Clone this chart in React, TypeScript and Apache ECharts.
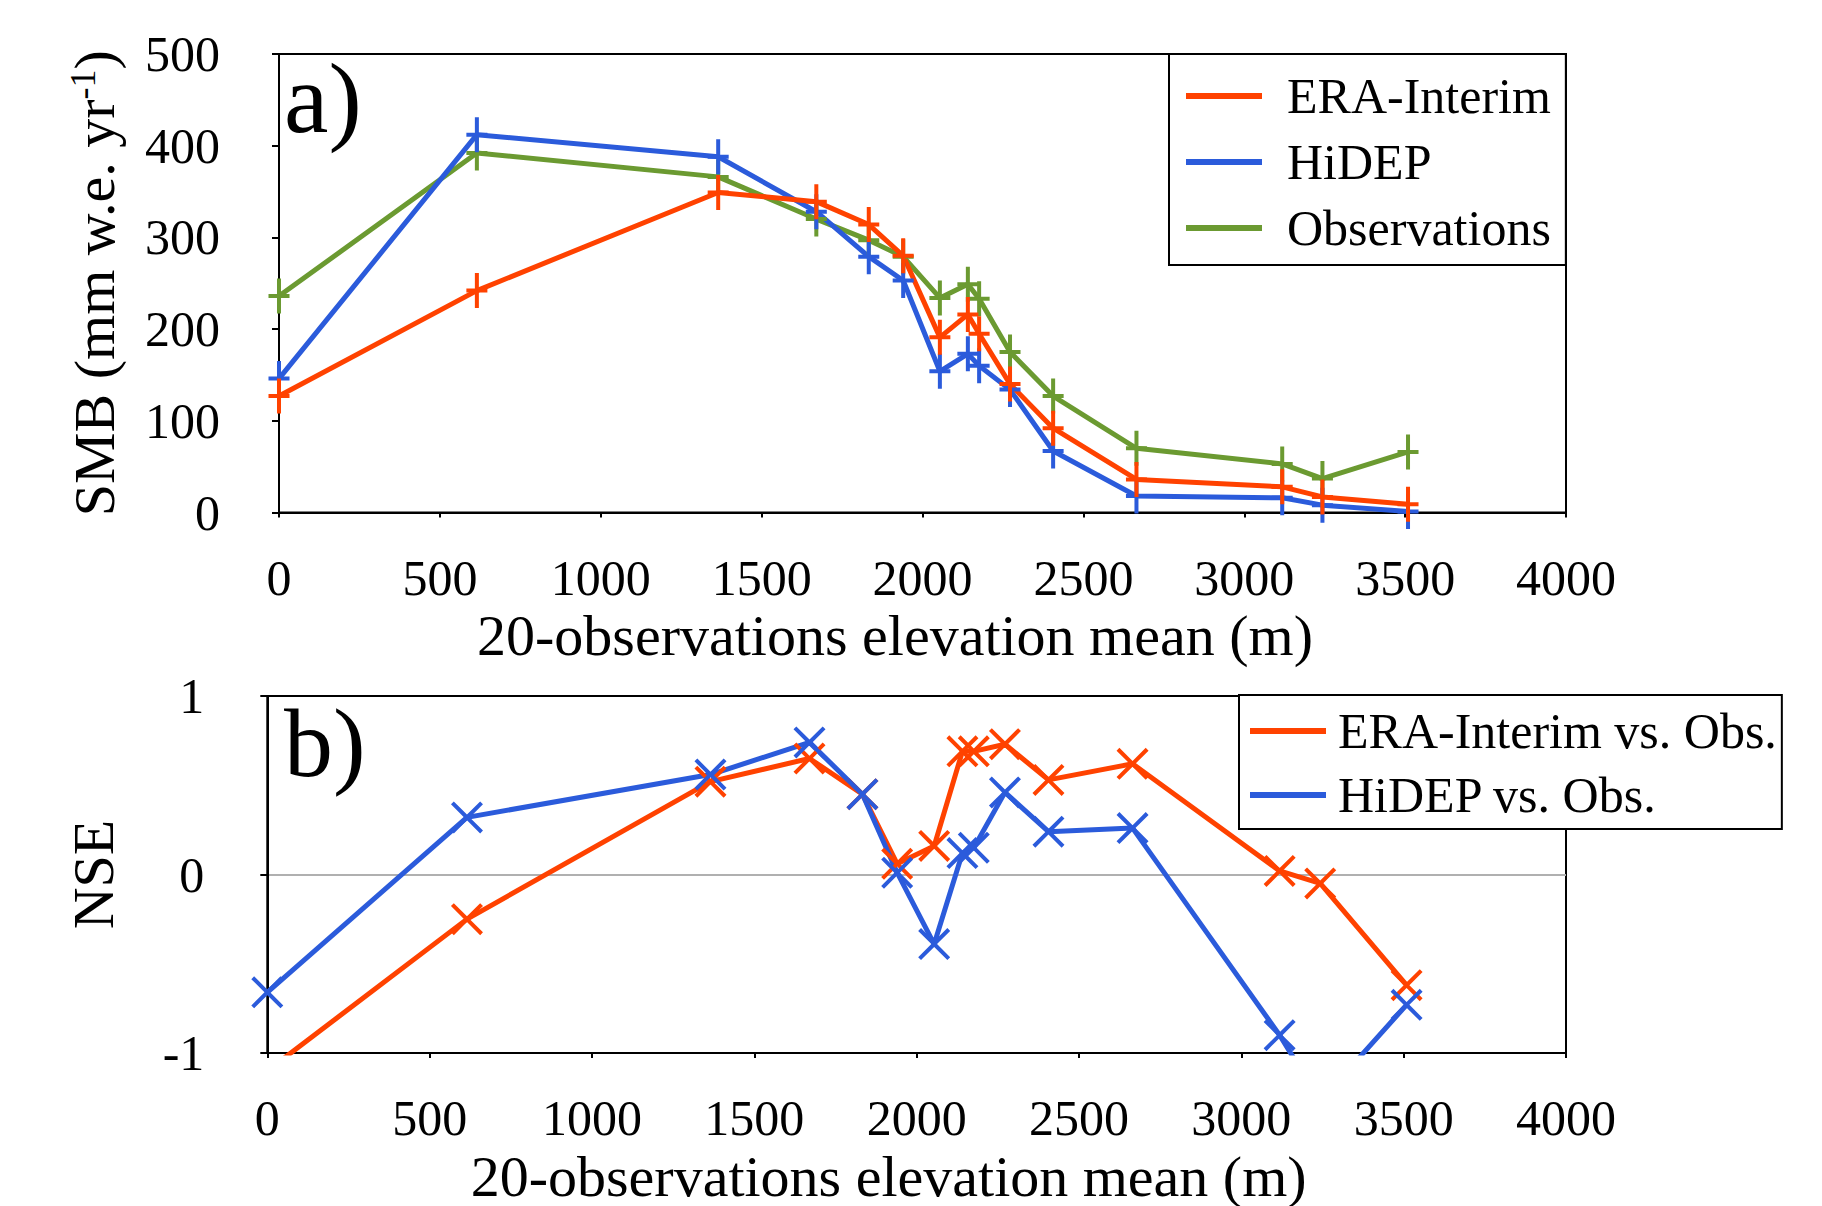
import React, { useEffect, useRef } from 'react';
import * as echarts from 'echarts';

// ---- data ----
const elevation = [0, 615, 1365, 1670, 1833, 1940, 2054, 2141, 2176, 2272, 2406, 2665, 3118, 3243, 3509];
const smbEra = [127, 242, 349, 339, 314, 280, 191, 216, 195, 140, 92, 36, 28, 17, 9];
const smbHidep = [146, 412, 388, 328, 279, 253, 154, 173, 160, 134, 67, 18, 16, 8, 1];
const smbObs = [236, 392, 366, 320, 297, 279, 234, 249, 233, 175, 127, 70, 53, 37, 66];
const nseEra = [-1.1, -0.25, 0.52, 0.65, 0.45, 0.06, 0.16, 0.69, 0.69, 0.73, 0.53, 0.62, 0.02, -0.05, -0.62];
const nseHidep = [-0.66, 0.32, 0.56, 0.74, 0.45, 0.01, -0.39, 0.12, 0.15, 0.46, 0.24, 0.26, -0.9, -1.27, -0.73];

const xMin = 0, xMax = 4000, xStep = 500;
const smbMin = 0, smbMax = 500, smbStep = 100;
const nseMin = -1, nseMax = 1, nseStep = 1;

const legendA = ['ERA-Interim', 'HiDEP', 'Observations'];
const legendB = ['ERA-Interim vs. Obs.', 'HiDEP vs. Obs.'];
const xTitle = '20-observations elevation mean (m)';

// ---- styles ----
const FONT = '"Liberation Serif", "Times New Roman", serif';
const RED = '#FF4200';
const BLUE = '#2B5BDB';
const GREEN = '#6B9A31';
const PLUS = 'path://M8.5,0H12.5V15.5H21V19.5H12.5V35H8.5V19.5H0V15.5H8.5Z';
const CROSS = 'path://M0,2.83L2.83,0L16,13.17L29.17,0L32,2.83L18.83,16L32,29.17L29.17,32L16,18.83L2.83,32L0,29.17L13.17,16Z';

const pairs = (ys: number[]) => elevation.map((x, i) => [x, ys[i]]);
const plain = (v: number) => String(v);

function xAxisCfg(gridIndex: number, padRight: number) {
  return {
    type: 'value', gridIndex, min: xMin, max: xMax, interval: xStep,
    axisLine: { show: true, onZero: false, lineStyle: { color: '#000', width: 2 } },
    axisTick: { show: true, length: 5, lineStyle: { color: '#000', width: 2 } },
    splitLine: { show: false },
    axisLabel: { fontFamily: FONT, fontSize: 50, color: '#000', margin: 40, formatter: plain },
    name: xTitle, nameLocation: 'middle', nameGap: 94,
    nameTextStyle: { fontFamily: FONT, fontSize: 58, color: '#000', padding: [0, padRight, 0, 0] },
  };
}

function lineSeries(name: string, color: string, data: number[][], idx: number, symbol: string, size: number[]) {
  return {
    type: 'line', name, xAxisIndex: idx, yAxisIndex: idx, data,
    symbol, symbolSize: size, showAllSymbol: true,
    lineStyle: { color, width: 5 },
    itemStyle: { color, borderWidth: 0 },
    emphasis: { disabled: true },
  };
}

function legendCfg(data: string[], left: number, top: number, padding: number[], itemGap: number, textPad: number) {
  return {
    data, orient: 'vertical', left, top, padding, itemGap,
    itemWidth: 76, itemHeight: 6, icon: 'rect',
    borderColor: '#000', borderWidth: 2, backgroundColor: '#fff',
    selectedMode: false,
    textStyle: { fontFamily: FONT, fontSize: 50, color: '#000', lineHeight: 50, padding: [0, 0, 0, textPad] },
  };
}

export default function App() {
  const ref = useRef<HTMLDivElement>(null);
  useEffect(() => {
    if (!ref.current) return;
    const chart = echarts.init(ref.current, undefined, { renderer: 'svg' });
    chart.setOption({
      animation: false,
      backgroundColor: '#fff',
      grid: [
        { left: 279, top: 54, width: 1287, height: 458.5, show: true, borderColor: '#000', borderWidth: 2, backgroundColor: 'transparent' },
        { left: 267.3, top: 696, width: 1298.7, height: 361, show: true, borderColor: '#000', borderWidth: 2, backgroundColor: 'transparent' },
      ],
      xAxis: [xAxisCfg(0, 55), xAxisCfg(1, 56)],
      yAxis: [
        {
          type: 'value', gridIndex: 0, min: smbMin, max: smbMax, interval: smbStep,
          axisLine: { show: true, onZero: false, lineStyle: { color: '#000', width: 2 } },
          axisTick: { show: true, length: 7, lineStyle: { color: '#000', width: 2 } },
          splitLine: { show: false },
          axisLabel: { fontFamily: FONT, fontSize: 50, color: '#000', margin: 59, formatter: plain },
          name: '{t|SMB (mm w.e. yr}{s|-1}{t|)}', nameLocation: 'middle', nameGap: 156,
          nameTextStyle: {
            fontFamily: FONT, fontSize: 58, color: '#000',
            rich: {
              t: { fontFamily: FONT, fontSize: 58, color: '#000' },
              s: { fontFamily: FONT, fontSize: 36, color: '#000', verticalAlign: 'top' },
            },
          },
        },
        {
          type: 'value', gridIndex: 1, min: nseMin, max: nseMax, interval: nseStep,
          axisLine: { show: true, onZero: false, lineStyle: { color: '#000', width: 2 } },
          axisTick: { show: true, length: 7, lineStyle: { color: '#000', width: 2 } },
          splitLine: { show: true, lineStyle: { color: ['rgba(0,0,0,0)', '#b0b0b0', 'rgba(0,0,0,0)'], width: 2 } },
          axisLabel: { fontFamily: FONT, fontSize: 50, color: '#000', margin: 63, formatter: plain },
          name: 'NSE', nameLocation: 'middle', nameGap: 145,
          nameTextStyle: { fontFamily: FONT, fontSize: 58, color: '#000' },
        },
      ],
      legend: [
        legendCfg(legendA, 1169, 54, [17, 15, 12, 17], 16, 20),
        legendCfg(legendB, 1239, 695, [11, 5, 9, 11], 14, 7),
      ],
      graphic: [
        { type: 'text', x: 284, y: 98, z: 100, style: { text: 'a)', fontFamily: FONT, fontSize: 100, fill: '#000', verticalAlign: 'middle' } },
        { type: 'text', x: 284, y: 743, z: 100, style: { text: 'b)', fontFamily: FONT, fontSize: 98, fill: '#000', verticalAlign: 'middle' } },
      ],
      series: [
        lineSeries(legendA[2], GREEN, pairs(smbObs), 0, PLUS, [21, 35]),
        lineSeries(legendA[1], BLUE, pairs(smbHidep), 0, PLUS, [21, 35]),
        lineSeries(legendA[0], RED, pairs(smbEra), 0, PLUS, [21, 35]),
        lineSeries(legendB[0], RED, pairs(nseEra), 1, CROSS, [32, 32]),
        lineSeries(legendB[1], BLUE, pairs(nseHidep), 1, CROSS, [32, 32]),
      ],
    });
    return () => chart.dispose();
  }, []);
  return <div ref={ref} style={{ position: 'absolute', left: 0, top: 0, width: 1822, height: 1206 }} />;
}
